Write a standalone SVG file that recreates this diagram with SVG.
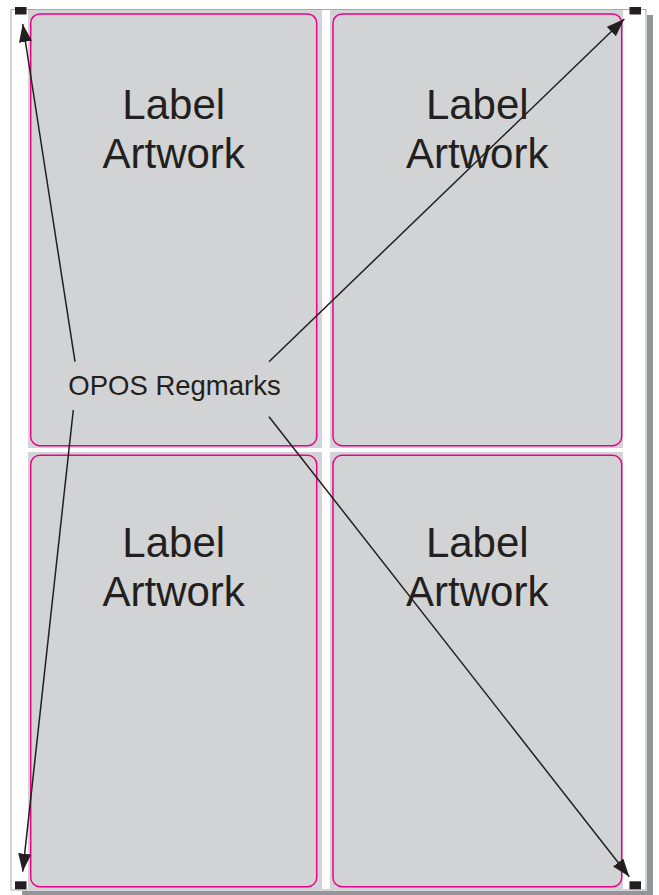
<svg xmlns="http://www.w3.org/2000/svg" width="659" height="895" viewBox="0 0 659 895">
<style>
.bleed{fill:#d1d3d4}
.trim{fill:none;stroke:#ec008c;stroke-width:1.5}
.lbl{font-family:"Liberation Sans",Arial,sans-serif;font-size:42px;fill:#231f20;text-anchor:middle}
.reg{fill:#231f20}
.conn{stroke:#231f20;stroke-width:1.5;fill:none;marker-end:url(#ah)}
</style>
<defs>
<marker id="ah" markerUnits="userSpaceOnUse" markerWidth="19" markerHeight="13" refX="18" refY="6.5" orient="auto">
<path d="M0,0 L18,6.5 L0,13 Z" fill="#231f20"/>
</marker>
</defs>
<rect width="659" height="895" fill="#fff"/>
<g id="page">
<rect x="647" y="15" width="6" height="880" fill="#939598"/>
<rect x="22" y="891" width="631" height="4" fill="#939598"/>
<rect x="11" y="9.5" width="635" height="880.5" fill="#fff" stroke="#a7a9ac" stroke-width="1"/>
</g>
<g id="label-tl">
<rect class="bleed" x="28" y="10" width="294" height="438"/>
<rect class="trim" x="30.7" y="14" width="286" height="431.7" rx="9"/>
<text class="lbl" x="173.7" y="119">Label</text>
<text class="lbl" x="173.7" y="167.7">Artwork</text>
</g>
<g id="label-tr">
<rect class="bleed" x="330" y="10" width="293" height="438"/>
<rect class="trim" x="333" y="14" width="288.7" height="431.7" rx="9"/>
<text class="lbl" x="477.3" y="119">Label</text>
<text class="lbl" x="477.3" y="167.7">Artwork</text>
</g>
<g id="label-bl">
<rect class="bleed" x="28" y="452" width="294" height="438"/>
<rect class="trim" x="30.7" y="455.3" width="286" height="431.4" rx="9"/>
<text class="lbl" x="173.7" y="557">Label</text>
<text class="lbl" x="173.7" y="605.5">Artwork</text>
</g>
<g id="label-br">
<rect class="bleed" x="330" y="452" width="293" height="438"/>
<rect class="trim" x="333" y="455.3" width="288.7" height="431.4" rx="9"/>
<text class="lbl" x="477.3" y="557">Label</text>
<text class="lbl" x="477.3" y="605.5">Artwork</text>
</g>
<g id="regmarks">
<rect class="reg" x="15" y="7" width="11.5" height="7.5"/>
<rect class="reg" x="629.5" y="7" width="11.5" height="7.5"/>
<rect class="reg" x="15" y="881.3" width="11.5" height="8"/>
<rect class="reg" x="629.5" y="881.3" width="11.5" height="8"/>
</g>
<g id="regmark-label">
<text x="68.3" y="395" style="font-family:'Liberation Sans',Arial,sans-serif;font-size:27.5px;fill:#231f20">OPOS Regmarks</text>
</g>
<g id="connectors">
<line class="conn" x1="75" y1="361.7" x2="22.7" y2="24"/>
<line class="conn" x1="73.3" y1="410" x2="22.7" y2="871.7"/>
<line class="conn" x1="269" y1="361.7" x2="624.3" y2="19"/>
<line class="conn" x1="269" y1="416.7" x2="629.3" y2="876.7"/>
</g>
</svg>
